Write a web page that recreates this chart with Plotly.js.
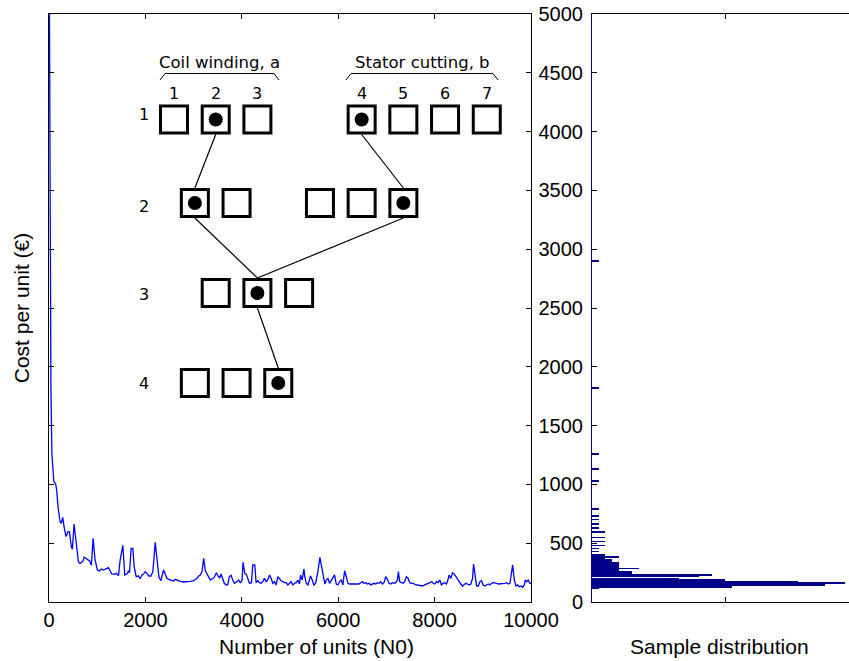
<!DOCTYPE html>
<html>
<head>
<meta charset="utf-8">
<script src="https://cdn.plot.ly/plotly-3.0.1.min.js"></script>
<style>html,body{margin:0;padding:0;background:#fff;}#chart{width:849px;height:661px;}</style>
</head>
<body>
<div id="chart"></div>
<script>
// ---- Main series: cost per unit vs number of units ----
const units = [0,20,40,60,80,100,140,160,187,229,256,285,312,353,395,423,464,485,520,561,610,644,700,728,783,838,880,915,956,1005,
1046,1088,1130,1185,1234,1268,1303,1351,1393,1441,1476,1531,1573,1615,1649,1670,1705,1740,1767,1809,1858,1892,1927,1961,1996,
2030,2072,2113,2155,2204,2238,2280,2321,2342,2377,2411,2446,2481,2516,2585,2619,2654,2723,2793,2862,2931,3001,3070,3105,3139,
3174,3209,3243,3278,3313,3347,3382,3417,3451,3472,3507,3541,3569,3604,3638,3673,3708,3742,3777,3812,3846,3888,3936,3971,
4006,4026,4061,4096,4130,4158,4200,4227,4269,4297,4331,4366,4401,4435,4470,4504,4539,4574,4608,4643,4678,4712,4747,4782,4816,
4851,4886,4920,4955,4990,5024,5059,5093,5128,5163,5197,5218,5253,5288,5308,5336,5371,5405,5426,5461,5495,5530,5572,5620,5655,
5690,5724,5752,5787,5821,5856,5890,5925,5960,5994,6029,6064,6098,6133,6168,6202,6237,6292,6362,6431,6466,6500,6535,6570,6604,
6639,6674,6708,6743,6778,6812,6847,6881,6916,6951,6985,7020,7055,7089,7124,7159,7193,7228,7249,7276,7311,7346,7380,7415,7450,
7484,7519,7554,7588,7644,7692,7748,7796,7852,7900,7942,7969,8004,8039,8073,8108,8143,8177,8212,8247,8281,8302,8337,8371,8406,
8441,8475,8510,8545,8579,8614,8649,8683,8718,8753,8787,8808,8843,8871,8905,8940,8974,9009,9044,9078,9113,9148,9182,9217,9252,
9286,9321,9355,9390,9425,9459,9494,9529,9563,9598,9619,9654,9688,9723,9757,9792,9827,9861,9882,9910,9944,9979,10000];
const costPerUnit = [6000,2900,1820,1261,1131,1029,1000,950,810,683,669,720,640,556,598,598,470,448,663,527,343,329,343,380,363,351,312,541,357,272,
264,281,272,286,292,266,238,235,244,224,357,482,230,238,266,249,456,456,300,215,221,198,230,238,258,
244,221,221,258,507,357,215,181,215,272,238,201,193,187,179,193,187,176,170,170,176,181,201,221,230,
258,371,266,238,215,187,198,204,230,249,221,204,238,187,159,145,147,215,227,187,159,170,187,162,
187,337,244,235,187,159,164,315,315,164,181,164,159,173,201,173,187,230,201,159,173,145,215,193,181,
173,164,164,145,159,173,145,159,164,187,153,230,187,281,215,159,145,201,221,187,145,159,244,380,300,
230,153,187,201,159,187,215,230,153,145,173,187,145,266,215,159,153,153,150,153,164,173,159,164,153,
159,145,153,159,153,164,159,173,153,164,215,193,159,153,164,159,164,187,258,173,164,159,173,215,201,
164,159,159,150,145,136,136,145,153,164,173,159,153,173,164,187,145,159,164,153,193,230,201,249,238,
215,193,164,153,136,145,159,153,145,153,201,323,215,136,136,173,181,145,136,145,153,145,159,164,164,
159,153,153,159,153,159,164,153,159,244,315,187,136,145,130,136,125,145,187,173,187,159,159];

// ---- Sample distribution (horizontal histogram) ----
const binCost = [2900,1820,1261,1131,1029,791,731,703,666,632,598,550,513,479,456,428,400,385,371,357,343,329,315,300,286,272,258,244,230,216,201,187,173,159,145,130,116];
const binCount = [1,1,1,1,1,1,1,1,1,1,2,2,2,2,1,1,2,4,2,3,3,4,4,4,7,4,6,6,18,16,13,20,31,38,35,21,1];

// ---- Process-selection diagram (stage rows, option columns) ----
const stageLabels = ['1','2','3','4'];
const stageLabelY = [114, 206, 294, 383];
const stageRowY = [119.5, 203, 293, 383];
const stageOptionCols = [[0,1,2,4.5,5.5,6.5,7.5],[0.5,1.5,3.5,4.5,5.5],[1,2,3],[0.5,1.5,2.5]];
const stageChosen = [[1,3],[0,4],[1],[2]];
const links = [[[0,1],[1,0]],[[0,3],[1,4]],[[1,0],[2,1]],[[1,4],[2,1]],[[2,1],[3,2]]];
const optionLabels = ['1','2','3','4','5','6','7'];
const groupNames = ['Coil winding, a','Stator cutting, b'];
const groupSpans = [[-0.336,2.518],[4.125,7.77]];

const HALF = 15;
const sqX=[], sqY=[], dotX=[], dotY=[], lnX=[], lnY=[];
stageOptionCols.forEach((cols,r)=>cols.forEach((c,i)=>{
  sqX.push(c); sqY.push(stageRowY[r]);
  if (stageChosen[r].includes(i)) { dotX.push(c); dotY.push(stageRowY[r]); }
}));
links.forEach(([a,b])=>{
  lnX.push(stageOptionCols[a[0]][a[1]], stageOptionCols[b[0]][b[1]], null);
  lnY.push(stageRowY[a[0]]+HALF, stageRowY[b[0]]-HALF, null);
});

const FONT = 'Liberation Sans, Arial, Helvetica, sans-serif';
const DFONT = 'DejaVu Sans, sans-serif';

const traces = [
  {type:'scatter', mode:'lines', x:units, y:costPerUnit, xaxis:'x', yaxis:'y',
   line:{color:'#0000ff', width:1.3}, hoverinfo:'skip'},
  {type:'bar', orientation:'h', y:binCost, x:binCount, xaxis:'x2', yaxis:'y2', width:14,
   marker:{color:'#000088', line:{width:0}}, hoverinfo:'skip'},
  {type:'scatter', mode:'lines', x:lnX, y:lnY, xaxis:'x3', yaxis:'y3',
   line:{color:'#000', width:1.2}, hoverinfo:'skip'},
  {type:'scatter', mode:'markers', x:sqX, y:sqY, xaxis:'x3', yaxis:'y3',
   marker:{symbol:'square', size:27, color:'#fff', line:{color:'#000', width:3}}, hoverinfo:'skip'},
  {type:'scatter', mode:'markers', x:dotX, y:dotY, xaxis:'x3', yaxis:'y3',
   marker:{symbol:'circle', size:14, color:'#000', line:{width:0}}, hoverinfo:'skip'}
];

const annotations = [];
stageLabels.forEach((t,r)=>annotations.push({xref:'x3', yref:'y3', x:-0.72, y:stageLabelY[r], text:t, showarrow:false,
  font:{family:DFONT, size:16, color:'#000'}}));
stageOptionCols[0].forEach((c,i)=>annotations.push({xref:'x3', yref:'y3', x:c, y:93, text:optionLabels[i], showarrow:false,
  font:{family:DFONT, size:16, color:'#000'}}));
groupNames.forEach((t,g)=>annotations.push({xref:'x3', yref:'y3', x:(groupSpans[g][0]+groupSpans[g][1])/2, y:62, text:t, showarrow:false,
  font:{family:DFONT, size:16.5, color:'#000'}}));
// axis titles for the bottom of each panel
annotations.push({xref:'paper', yref:'paper', x:0.334, y:-0.0765, xanchor:'center', yanchor:'middle',
  text:'Number of units (N0)', showarrow:false, font:{family:FONT, size:21, color:'#000'}});
annotations.push({xref:'paper', yref:'paper', x:0.8385, y:-0.0765, xanchor:'center', yanchor:'middle',
  text:'Sample distribution', showarrow:false, font:{family:FONT, size:21, color:'#000'}});

const shapes = groupSpans.map(([a,b])=>({type:'path', xref:'x3', yref:'y3',
  path:`M ${a},80 L ${a+0.12},73.5 L ${b-0.12},73.5 L ${b},80`, line:{color:'#000', width:1}}));

const axisCommon = {showgrid:false, zeroline:false, showline:true, linecolor:'#000', linewidth:1,
  ticks:'inside', ticklen:5, tickcolor:'#000', tickwidth:1, tickformat:'d',
  tickfont:{family:FONT, size:20, color:'#000'}};

const layout = {
  width:849, height:661, margin:{l:49, r:0, t:14, b:59},
  paper_bgcolor:'#fff', plot_bgcolor:'#fff', showlegend:false,
  xaxis:Object.assign({}, axisCommon, {domain:[0,0.6025], range:[0,10000], dtick:2000, mirror:'ticks', anchor:'y'}),
  yaxis:Object.assign({}, axisCommon, {domain:[0,1], range:[0,5000], dtick:500, mirror:'ticks', anchor:'x', showticklabels:false,
    title:{text:'Cost per unit (€)', font:{family:FONT, size:21, color:'#000'}, standoff:12}}),
  xaxis2:Object.assign({}, axisCommon, {domain:[0.67875,1], range:[0,38.6], dtick:20, mirror:'ticks', anchor:'y2', showticklabels:false}),
  yaxis2:Object.assign({}, axisCommon, {domain:[0,1], range:[0,5000], dtick:500, anchor:'x2', linecolor:'#000088', mirror:false,
    ticklabelstandoff:4}),
  xaxis3:{overlaying:'x', anchor:'y3', range:[-2.998,8.561], visible:false, fixedrange:true},
  yaxis3:{overlaying:'y', anchor:'x3', range:[602,14], visible:false, fixedrange:true},
  bargap:0,
  annotations:annotations,
  shapes:shapes
};

Plotly.newPlot('chart', traces, layout, {displayModeBar:false, staticPlot:true});
</script>
</body>
</html>
